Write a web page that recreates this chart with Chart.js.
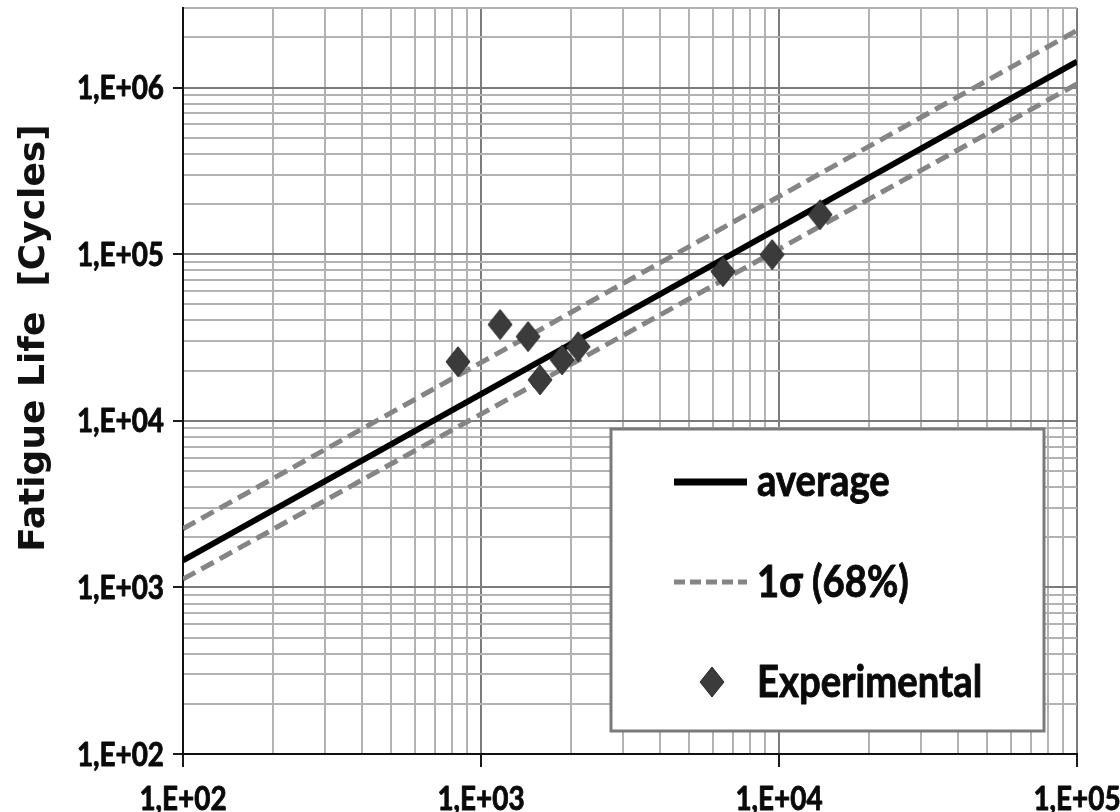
<!DOCTYPE html>
<html>
<head>
<meta charset="utf-8">
<title>Fatigue Life</title>
<script src="https://cdn.jsdelivr.net/npm/chart.js@4.4.1/dist/chart.umd.min.js"></script>
<style>
  html, body { margin: 0; padding: 0; background: #fff; width: 1120px; height: 812px; overflow: hidden; }
  #wrap { position: absolute; left: 0; top: 0; width: 1120px; height: 860px; }
</style>
</head>
<body>
<div id="wrap"><canvas id="chart" width="1120" height="860"></canvas></div>
<script>
// Experimental results: load cycles (x) vs. fatigue life in cycles (y)
const expCycles = [837, 1159, 1439, 1578, 1871, 2119, 6485, 9483, 13740];
const expLife   = [22600, 37800, 32000, 17600, 23200, 27800, 78500, 99300, 172600];

// Fitted curve and its 1-sigma band, evaluated at the ends of the x range
const fitCycles  = [100, 100000];
const avgLife    = [1450, 1430000];
const upperLife  = [2250, 2200000];
const lowerLife  = [1120, 1050000];

// Decade tick values and their labels
const xDecades = [100, 1000, 10000, 100000];
const xDecadeLabels = ['1,E+02', '1,E+03', '1,E+04', '1,E+05'];
const yDecades = [100, 1000, 10000, 100000, 1000000];
const yDecadeLabels = ['1,E+02', '1,E+03', '1,E+04', '1,E+05', '1,E+06'];

const seriesNames = ['average', '1\u03c3 (68%)', 'Experimental'];
const yTitle = 'Fatigue Life  [Cycles]';

const X_MIN = 100, X_MAX = 100000, Y_MIN = 100, Y_MAX = 3000000;

// Label face: a humanist bold, drawn slightly condensed
const LABEL_FAMILY = 'Lato, "Open Sans", "Liberation Sans", sans-serif';
const SQUEEZE = 0.87;

// Diamond marker sprite
function diamondSprite(w, h) {
  const c = document.createElement('canvas');
  c.width = w; c.height = h;
  const g = c.getContext('2d');
  g.beginPath();
  g.moveTo(w / 2, 1);
  g.lineTo(w - 1, h / 2);
  g.lineTo(w / 2, h - 1);
  g.lineTo(1, h / 2);
  g.closePath();
  g.fillStyle = '#3b3b3b';
  g.fill();
  g.lineWidth = 1;
  g.strokeStyle = '#2a2a2a';
  g.stroke();
  return c;
}
const diamond = diamondSprite(26, 32);

// Gridline values: every integer multiple inside each decade
function logGrid(min, max, decades) {
  const out = [];
  for (let d = 0; d < 8; d++) {
    const base = Math.pow(10, d);
    for (let m = 1; m <= 9; m++) {
      const v = base * m;
      if (v >= min - 1e-9 && v <= max + 1e-9) out.push({ value: v, major: decades.includes(v) });
    }
  }
  return out;
}

function pts(xs, ys) { return xs.map((x, i) => ({ x: x, y: ys[i] })); }

// Bold text, slightly condensed and thickened
function squeezedText(g, text, x, y, align) {
  g.save();
  g.translate(x, y);
  g.scale(SQUEEZE, 1);
  g.textAlign = align;
  g.lineWidth = 0.9;
  g.lineJoin = 'round';
  g.strokeStyle = g.fillStyle;
  g.fillText(text, 0, 0);
  g.strokeText(text, 0, 0);
  g.restore();
}

const gridColor = (ctx) => (ctx.tick && ctx.tick.major ? '#7c7c7c' : '#b2b2b2');
const tickMarkColor = (ctx) => (ctx.tick && ctx.tick.major ? '#1a1a1a' : 'rgba(0,0,0,0)');

// Decade labels on both axes
const decadeLabelPlugin = {
  id: 'decadeLabels',
  afterDraw(chart) {
    const g = chart.ctx;
    const xs = chart.scales.x, ys = chart.scales.y;
    g.save();
    g.font = 'bold 32px ' + LABEL_FAMILY;
    g.fillStyle = '#0a0a0a';
    g.textBaseline = 'alphabetic';
    yDecades.forEach((v, i) => {
      squeezedText(g, yDecadeLabels[i], ys.right - 19, ys.getPixelForValue(v) + 11.5, 'right');
    });
    xDecades.forEach((v, i) => {
      squeezedText(g, xDecadeLabels[i], xs.getPixelForValue(v), xs.top + 56, 'center');
    });
    g.restore();
  }
};

// Y axis title, rotated, drawn beside the tick labels
const yTitlePlugin = {
  id: 'yTitle',
  afterDraw(chart) {
    const g = chart.ctx;
    g.save();
    g.translate(44, 338);
    g.rotate(-Math.PI / 2);
    g.font = 'bold 36px "DejaVu Sans", sans-serif';
    g.fillStyle = '#111';
    g.textAlign = 'center';
    g.textBaseline = 'alphabetic';
    g.fillText(yTitle, 0, 0);
    g.restore();
  }
};

// Boxed legend inside the plot area
const boxLegendPlugin = {
  id: 'boxLegend',
  afterDatasetsDraw(chart) {
    const g = chart.ctx;
    const L = 611, T = 429, R = 1044, B = 731;
    g.save();
    g.fillStyle = '#fff';
    g.fillRect(L, T, R - L, B - T);
    g.lineWidth = 3;
    g.strokeStyle = '#7a7a7a';
    g.strokeRect(L, T, R - L, B - T);

    const ds = chart.data.datasets;
    const sx1 = 674, sx2 = 747, tx = 757;
    const rows = [482, 582, 682];
    g.font = 'bold 44px ' + LABEL_FAMILY;
    g.fillStyle = '#0a0a0a';
    g.textBaseline = 'alphabetic';

    // solid average line
    g.beginPath();
    g.moveTo(sx1, rows[0]); g.lineTo(sx2, rows[0]);
    g.lineWidth = 7; g.strokeStyle = ds[0].borderColor; g.setLineDash([]);
    g.stroke();
    squeezedText(g, ds[0].label, tx, rows[0] + 14, 'left');

    // dashed 1-sigma line
    g.beginPath();
    g.moveTo(sx1, rows[1]); g.lineTo(sx2, rows[1]);
    g.lineWidth = 5; g.strokeStyle = ds[1].borderColor; g.setLineDash([11, 5]);
    g.stroke();
    g.setLineDash([]);
    squeezedText(g, ds[1].label, tx, rows[1] + 15, 'left');

    // diamond marker
    g.drawImage(diamond, 712 - diamond.width / 2, rows[2] - diamond.height / 2);
    squeezedText(g, ds[3].label, tx, rows[2] + 15, 'left');
    g.restore();
  }
};

new Chart(document.getElementById('chart'), {
  type: 'line',
  data: {
    datasets: [
      {
        label: seriesNames[0],
        data: pts(fitCycles, avgLife),
        borderColor: '#000',
        borderWidth: 6,
        pointRadius: 0,
        order: 2
      },
      {
        label: seriesNames[1],
        data: pts(fitCycles, upperLife),
        borderColor: '#858585',
        borderWidth: 5,
        borderDash: [14, 7],
        pointRadius: 0,
        order: 3
      },
      {
        label: seriesNames[1] + ' ',
        data: pts(fitCycles, lowerLife),
        borderColor: '#858585',
        borderWidth: 5,
        borderDash: [14, 7],
        pointRadius: 0,
        order: 3
      },
      {
        label: seriesNames[2],
        data: pts(expCycles, expLife),
        showLine: false,
        pointStyle: diamond,
        pointRadius: 14,
        order: 1
      }
    ]
  },
  options: {
    responsive: false,
    animation: false,
    devicePixelRatio: 1,
    layout: { autoPadding: false, padding: { left: 0, top: 8, right: 43, bottom: 0 } },
    plugins: {
      legend: { display: false },
      tooltip: { enabled: false }
    },
    scales: {
      x: {
        type: 'logarithmic',
        min: X_MIN,
        max: X_MAX,
        afterBuildTicks: (s) => { s.ticks = logGrid(X_MIN, X_MAX, xDecades); },
        afterFit: (s) => { s.height = 106; },
        grid: {
          color: gridColor,
          lineWidth: 2,
          drawTicks: true,
          tickLength: 13,
          tickColor: tickMarkColor,
          tickWidth: 2
        },
        border: { display: true, color: '#111', width: 2 },
        ticks: { display: false, autoSkip: false }
      },
      y: {
        type: 'logarithmic',
        min: Y_MIN,
        max: Y_MAX,
        afterBuildTicks: (s) => { s.ticks = logGrid(Y_MIN, Y_MAX, yDecades); },
        afterFit: (s) => { s.width = 183; },
        grid: {
          color: gridColor,
          lineWidth: 2,
          drawTicks: true,
          tickLength: 10,
          tickColor: tickMarkColor,
          tickWidth: 2
        },
        border: { display: true, color: '#111', width: 2 },
        ticks: { display: false, autoSkip: false }
      }
    }
  },
  plugins: [decadeLabelPlugin, yTitlePlugin, boxLegendPlugin]
});
</script>
</body>
</html>
